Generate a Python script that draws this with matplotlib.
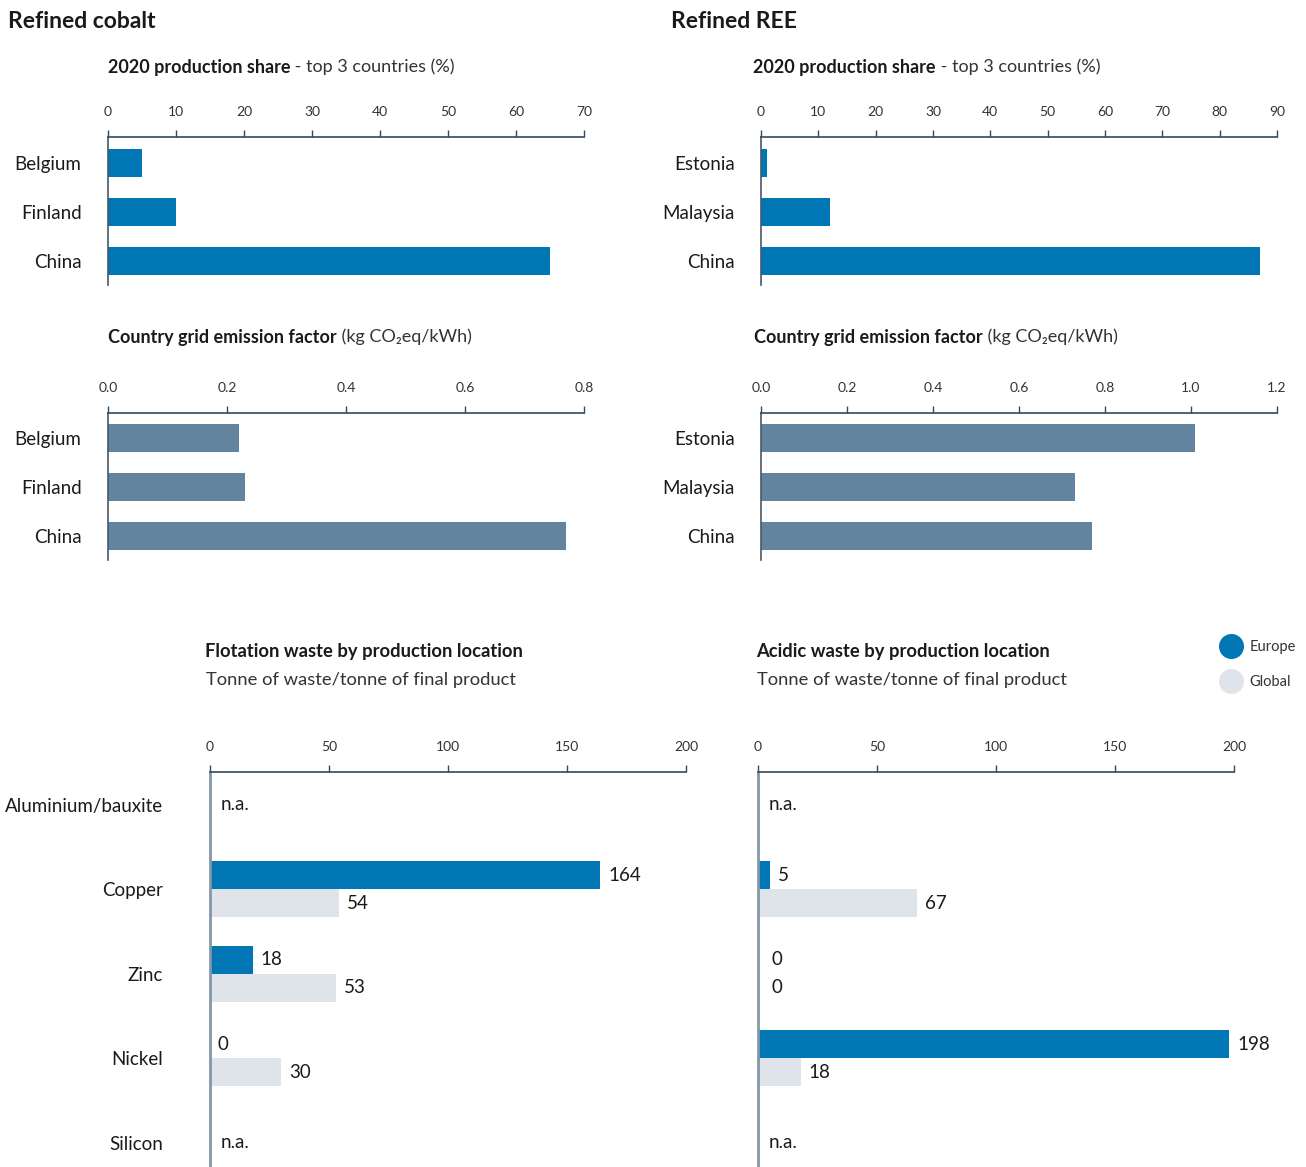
import matplotlib
matplotlib.use('Agg')
import matplotlib.pyplot as plt
from matplotlib.lines import Line2D

plt.rcParams['font.family'] = ['Lato', 'DejaVu Sans']

# data
cobalt_countries = ['Belgium', 'Finland', 'China']
cobalt_share = [5, 10, 65]
cobalt_grid = [0.22, 0.23, 0.77]

ree_countries = ['Estonia', 'Malaysia', 'China']
ree_share = [1, 12, 87]
ree_grid = [1.01, 0.73, 0.77]

materials = ['Aluminium/bauxite', 'Copper', 'Zinc', 'Nickel', 'Silicon']
flot_europe = [None, 164, 18, 0, None]
flot_global = [None, 54, 53, 30, None]
acid_europe = [None, 5, 0, 198, None]
acid_global = [None, 67, 0, 18, None]

BLUE = '#0077b4'
SLATE = '#62849e'
LIGHT = '#dfe4eb'
DARK = '#1a1a1a'
AXIS = '#34495c'
SPINE = '#8497a7'

W, H = 1306, 1167
fig = plt.figure(figsize=(W / 100, H / 100), dpi=100)


def box(l, t, r, b):
    return [l / W, 1 - b / H, (r - l) / W, (b - t) / H]


def style_axis(ax, xmax, step, fmt, label_pad):
    ax.set_xlim(0, xmax)
    ax.xaxis.tick_top()
    ticks = [i * step for i in range(int(round(xmax / step)) + 1)]
    ax.set_xticks(ticks)
    ax.set_xticklabels([fmt.format(t) for t in ticks])
    ax.tick_params(axis='x', direction='out', length=5, width=1, color=AXIS,
                   labelsize=10, labelcolor='#333333', pad=9)
    ax.tick_params(axis='y', length=0, labelsize=13.5, labelcolor=DARK, pad=label_pad)
    for s in ['right', 'bottom']:
        ax.spines[s].set_visible(False)
    ax.spines['top'].set_color(AXIS)
    ax.spines['top'].set_linewidth(1.2)
    ax.spines['left'].set_color('#46596a')
    ax.spines['left'].set_linewidth(1.2)


def country_panel(rect, names, values, color, xmax, step, fmt):
    ax = fig.add_axes(box(*rect))
    y = range(len(names))
    ax.barh(y, values, height=0.57, color=color)
    ax.set_ylim(2.49, -0.52)
    ax.set_yticks(list(y))
    ax.set_yticklabels(names)
    style_axis(ax, xmax, step, fmt, 19)
    return ax


def title_pair(x, y, bold, rest, size=13):
    t = fig.text(x / W, 1 - y / H, bold, fontsize=size, fontweight='bold',
                 color=DARK, va='center', ha='left')
    if rest:
        fig.add_artist(plt.Annotation(rest, xy=(1, 0.5), xycoords=t, va='center',
                                      ha='left', fontsize=size, color='#333333'))


# main titles
fig.text(8 / W, 1 - 22 / H, 'Refined cobalt', fontsize=16.5, fontweight='bold',
         color=DARK, va='center')
fig.text(671 / W, 1 - 22 / H, 'Refined REE', fontsize=16.5, fontweight='bold',
         color=DARK, va='center')

title_pair(108, 67, '2020 production share', ' - top 3 countries (%)')
title_pair(753, 67, '2020 production share', ' - top 3 countries (%)')
title_pair(108, 337, 'Country grid emission factor', ' (kg CO\u2082eq/kWh)')
title_pair(754, 337, 'Country grid emission factor', ' (kg CO\u2082eq/kWh)')

country_panel((108, 137, 584, 285), cobalt_countries, cobalt_share, BLUE, 70, 10, '{:.0f}')
country_panel((761, 137, 1277, 285), ree_countries, ree_share, BLUE, 90, 10, '{:.0f}')
country_panel((108, 413, 584, 560), cobalt_countries, cobalt_grid, SLATE, 0.8, 0.2, '{:.1f}')
country_panel((761, 413, 1277, 560), ree_countries, ree_grid, SLATE, 1.2, 0.2, '{:.1f}')


def waste_panel(rect, europe, glob, show_labels, zero_pad):
    ax = fig.add_axes(box(*rect))
    bh = 0.333
    for i, (e, g) in enumerate(zip(europe, glob)):
        if e is None:
            ax.annotate('n.a.', xy=(0, i), xytext=(11, 0), textcoords='offset pixels',
                        va='center', ha='left', fontsize=13.5, color=DARK)
            continue
        ax.barh(i - bh / 2, e, height=bh, color=BLUE)
        ax.barh(i + bh / 2, g, height=bh, color=LIGHT)
        ax.annotate(str(e), xy=(e, i - bh / 2), xytext=(8 if e else zero_pad, 0),
                    textcoords='offset pixels', va='center', ha='left',
                    fontsize=13.5, color=DARK)
        ax.annotate(str(g), xy=(g, i + bh / 2), xytext=(8 if g else zero_pad, 0),
                    textcoords='offset pixels', va='center', ha='left',
                    fontsize=13.5, color=DARK)
    ax.set_ylim(4.29, -0.39)
    ax.set_yticks(range(len(materials)))
    ax.set_yticklabels(materials if show_labels else [])
    style_axis(ax, 200, 50, '{:.0f}', 34)
    ax.spines['left'].set_color(SPINE)
    ax.spines['left'].set_linewidth(2)
    return ax


title_pair(205, 651, 'Flotation waste by production location', '', size=13.2)
fig.text(206 / W, 1 - 680 / H, 'Tonne of waste/tonne of final product', fontsize=13.2,
         color='#333333', va='center')
title_pair(756, 651, 'Acidic waste by production location', '', size=13.2)
fig.text(757 / W, 1 - 680 / H, 'Tonne of waste/tonne of final product', fontsize=13.2,
         color='#333333', va='center')

waste_panel((210, 772, 686, 1167), flot_europe, flot_global, True, 7)
waste_panel((758, 772, 1234, 1167), acid_europe, acid_global, False, 13)

handles = [Line2D([], [], marker='o', linestyle='', markersize=17, color=BLUE, label='Europe'),
           Line2D([], [], marker='o', linestyle='', markersize=17, color=LIGHT, label='Global')]
fig.legend(handles=handles, loc='upper left', bbox_to_anchor=(1222 / W, 1 - 640 / H),
           frameon=False, fontsize=10.5, handletextpad=0.6, labelspacing=1.45,
           handlelength=1.3, borderaxespad=0, borderpad=0, labelcolor='#333333')

fig.savefig('out.png', dpi=100)
